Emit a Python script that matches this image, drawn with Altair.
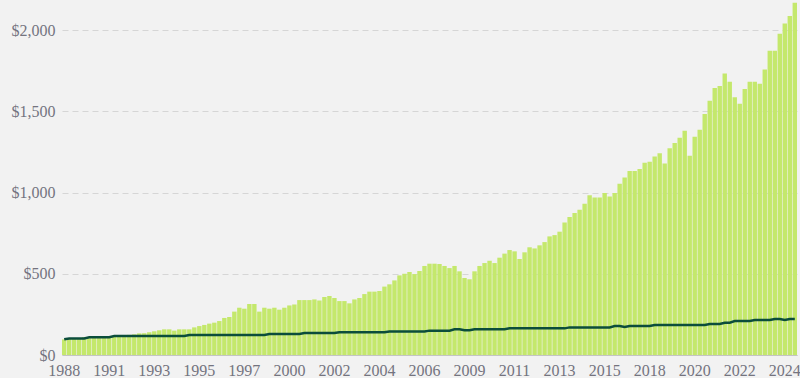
import altair as alt
import pandas as pd

start_year = 1988
start_quarter = 4

bar_values = [
    96, 100, 101, 102, 110, 104, 105, 107, 108, 110,
    112, 120, 122, 124, 127, 133, 134, 140, 146, 152,
    158, 158, 150, 158, 158, 158, 170, 178, 185, 193,
    199, 209, 228, 234, 267, 291, 285, 314, 314, 267,
    291, 285, 291, 279, 291, 305, 311, 338, 338, 338,
    342, 336, 357, 363, 351, 332, 332, 318, 342, 351,
    375, 390, 390, 394, 421, 435, 459, 490, 500, 511,
    498, 517, 548, 562, 562, 560, 548, 535, 548, 515,
    474, 466, 515, 548, 566, 580, 566, 599, 624, 646,
    638, 591, 632, 663, 656, 675, 695, 730, 738, 759,
    816, 849, 874, 894, 931, 983, 970, 970, 997, 976,
    997, 1054, 1093, 1132, 1132, 1145, 1184, 1190, 1221, 1241,
    1178, 1272, 1305, 1337, 1380, 1227, 1343, 1387, 1483, 1565,
    1643, 1655, 1733, 1682, 1586, 1547, 1637, 1682, 1682, 1670,
    1758, 1873, 1873, 1977, 2041, 2086, 2168,
]

line_values = (
    [97] + [102] * 4 + [109] * 5 + [117] * 15 + [123] * 16 + [129] * 7
    + [135] * 7 + [140] * 10 + [145] * 8 + [150] * 5 + [158] * 2 + [152] * 2
    + [158] * 7 + [164] * 12 + [170] * 9 + [178] * 2 + [172] + [178] * 5
    + [185] * 11 + [191] * 3 + [199] * 2 + [209] * 4 + [215] * 4 + [222] * 2
    + [215] + [222] * 2
)

periods = []
y, q = start_year, start_quarter
for _ in bar_values:
    periods.append(f"{y} Q{q}")
    q += 1
    if q > 4:
        q = 1
        y += 1

df = pd.DataFrame({"period": periods, "value": bar_values, "index": line_values[: len(bar_values)]})

tick_periods = periods[::9]

FONT = "Liberation Serif"
LABEL = "#74747f"

x_enc = alt.X(
    "period:O",
    sort=None,
    scale=alt.Scale(paddingInner=0.12, paddingOuter=0),
    axis=alt.Axis(
        values=tick_periods,
        labelExpr="substring(datum.label, 0, 4)",
        labelAngle=0,
        title=None,
        ticks=False,
        domain=True,
        domainColor="#c4c4c4",
        labelFont=FONT,
        labelFontSize=16,
        labelColor=LABEL,
        labelPadding=7,
        labelOverlap=False,
        grid=False,
    ),
)

y_scale = alt.Scale(domain=[0, 2185], nice=False)

bars = alt.Chart(df).mark_bar(color="#c4e86c").encode(
    x=x_enc,
    y=alt.Y(
        "value:Q",
        scale=y_scale,
        axis=alt.Axis(
            values=[0, 500, 1000, 1500, 2000],
            format="$,d",
            title=None,
            ticks=False,
            domain=False,
            grid=True,
            gridColor="#d6d6d6",
            gridDash=[6, 4],
            gridWidth=1.2,
            labelFont=FONT,
            labelFontSize=16,
            labelColor=LABEL,
            labelPadding=7,
        ),
    ),
)

line = alt.Chart(df).mark_line(color="#0b4d3b", strokeWidth=2.5).encode(
    x=alt.X("period:O", sort=None),
    y=alt.Y("index:Q", scale=y_scale),
)

chart = (
    alt.layer(bars, line)
    .properties(
        width=735,
        height=355,
        autosize=alt.AutoSizeParams(type="none"),
        padding={"left": 62, "top": 0, "right": 3, "bottom": 23},
        background="#f2f2f2",
    )
    .configure_view(stroke=None, fill="#f2f2f2")
)

chart.save("out.html", embed_options={"renderer": "svg", "actions": False})
